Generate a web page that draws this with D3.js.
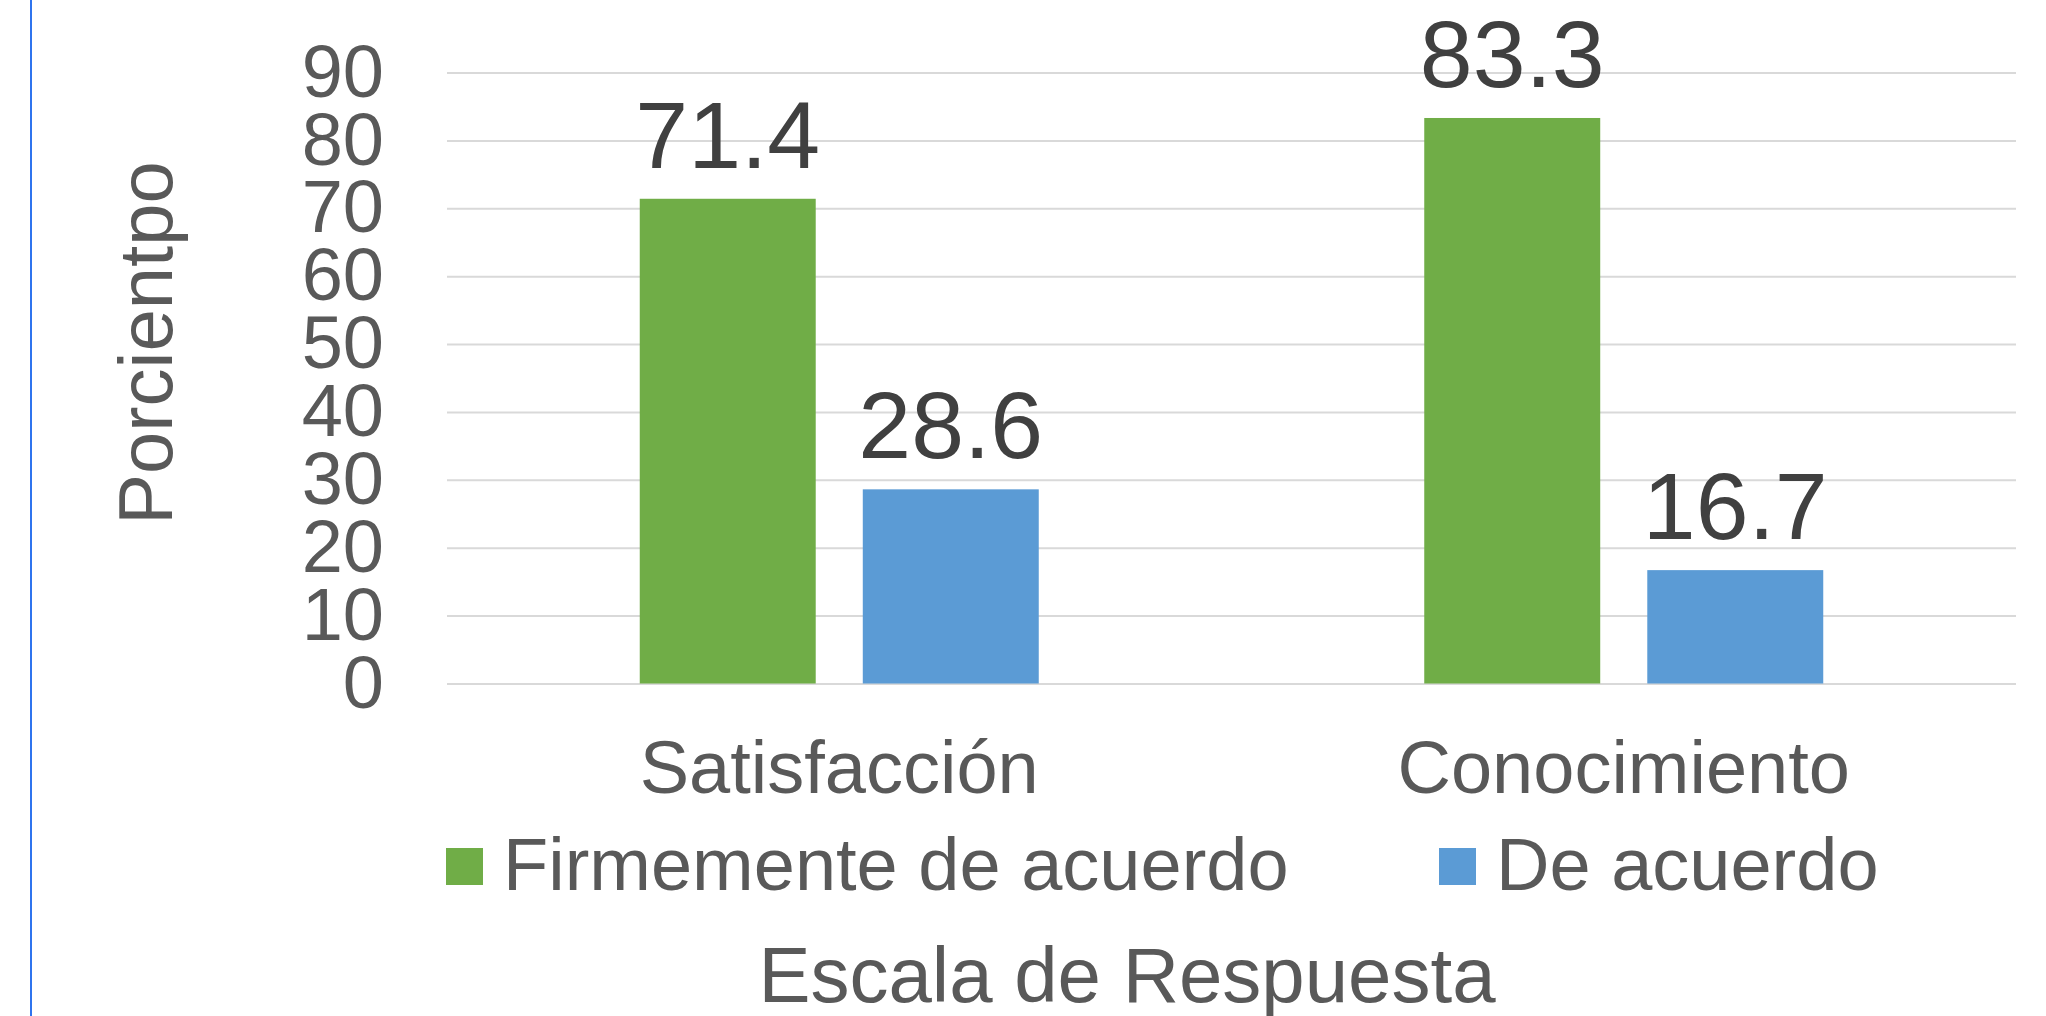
<!DOCTYPE html>
<html>
<head>
<meta charset="utf-8">
<script src="https://cdn.jsdelivr.net/npm/d3@7"></script>
<style>
  body { margin: 0; background: #fff; }
  svg { display: block; font-family: "Liberation Sans", Arial, sans-serif; }
</style>
</head>
<body>
<svg id="chart" width="2046" height="1016"></svg>
<script>
const categories = ['Satisfacción', 'Conocimiento'];
const seriesNames = ['Firmemente de acuerdo', 'De acuerdo'];
const firmemente = [71.4, 83.3];
const deAcuerdo = [28.6, 16.7];
const yTicks = [0, 10, 20, 30, 40, 50, 60, 70, 80, 90];

const COLORS = ['#70ad47', '#5b9bd5'];
const TEXT_GRAY = '#595959';
const LABEL_GRAY = '#404040';
const GRID = '#d9d9d9';

const svg = d3.select('#chart');
const plot = { left: 447, right: 2016, top: 72.5, bottom: 683.5 };

// left edge rule seen in the picture
svg.append('line')
  .attr('x1', 31).attr('x2', 31)
  .attr('y1', 0).attr('y2', 1016)
  .attr('stroke', '#2f74ee')
  .attr('stroke-width', 2);

const x = d3.scaleBand()
  .domain(categories)
  .range([plot.left, plot.right]);

const GROUP_W = 399;
const xs = d3.scaleBand()
  .domain(seriesNames)
  .range([0, GROUP_W])
  .paddingInner(0.211);

const y = d3.scaleLinear()
  .domain([0, 90])
  .range([plot.bottom, plot.top]);

// gridlines
const yAxis = d3.axisLeft(y)
  .tickValues(yTicks)
  .tickSize(-(plot.right - plot.left))
  .tickPadding(63)
  .tickFormat(d3.format('d'));

const gAxis = svg.append('g')
  .attr('transform', `translate(${plot.left},0)`)
  .call(yAxis);
gAxis.select('.domain').remove();
gAxis.selectAll('.tick line').attr('stroke', GRID).attr('stroke-width', 2);
gAxis.selectAll('.tick text')
  .attr('fill', TEXT_GRAY)
  .attr('font-size', 74)
  .attr('dy', '0.32em');

const rows = categories.map((c, i) => ({
  category: c,
  values: [firmemente[i], deAcuerdo[i]],
}));

const groups = svg.append('g').selectAll('g')
  .data(rows)
  .join('g')
  .attr('transform', d => `translate(${x(d.category) + (x.bandwidth() - GROUP_W) / 2},0)`);

groups.selectAll('rect')
  .data(d => d.values.map((v, j) => ({ v, name: seriesNames[j], j })))
  .join('rect')
  .attr('x', d => xs(d.name))
  .attr('width', xs.bandwidth())
  .attr('y', d => y(d.v))
  .attr('height', d => y(0) - y(d.v))
  .attr('fill', d => COLORS[d.j]);

groups.selectAll('text.val')
  .data(d => d.values.map((v, j) => ({ v, name: seriesNames[j] })))
  .join('text')
  .attr('class', 'val')
  .attr('x', d => xs(d.name) + xs.bandwidth() / 2)
  .attr('y', d => y(d.v) - 31)
  .attr('text-anchor', 'middle')
  .attr('font-size', 95)
  .attr('fill', LABEL_GRAY)
  .text(d => d.v.toFixed(1));

// category labels
svg.append('g').selectAll('text')
  .data(categories)
  .join('text')
  .attr('x', d => x(d) + x.bandwidth() / 2)
  .attr('y', 793)
  .attr('text-anchor', 'middle')
  .attr('font-size', 74)
  .attr('fill', TEXT_GRAY)
  .text(d => d);

// legend
const legendX = [446, 1439];
const legend = svg.append('g').selectAll('g')
  .data(seriesNames)
  .join('g')
  .attr('transform', (d, i) => `translate(${legendX[i]},848)`);
legend.append('rect')
  .attr('width', 37).attr('height', 37)
  .attr('fill', (d, i) => COLORS[i]);
legend.append('text')
  .attr('x', 57)
  .attr('y', 42)
  .attr('font-size', 74)
  .attr('fill', TEXT_GRAY)
  .text(d => d);

// axis titles
svg.append('text')
  .attr('transform', 'translate(172,343) rotate(-90)')
  .attr('text-anchor', 'middle')
  .attr('font-size', 76)
  .attr('fill', TEXT_GRAY)
  .text('Porcientpo');

svg.append('text')
  .attr('x', 1127)
  .attr('y', 1002)
  .attr('text-anchor', 'middle')
  .attr('font-size', 78)
  .attr('fill', TEXT_GRAY)
  .text('Escala de Respuesta');
</script>
</body>
</html>
